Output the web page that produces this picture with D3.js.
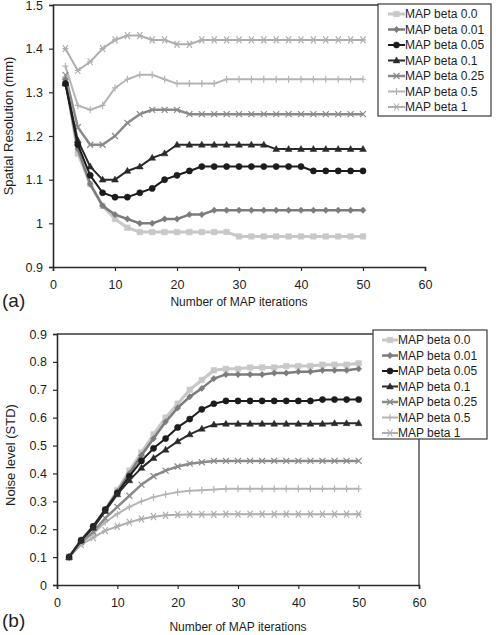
<!DOCTYPE html>
<html><head><meta charset="utf-8">
<script src="https://cdn.jsdelivr.net/npm/d3@7"></script>
<style>
body{margin:0;background:#fff}
svg{display:block}
text{font-family:"Liberation Sans",Arial,sans-serif;fill:#1e1e1e}
</style>
</head><body>
<svg id="chart" width="496" height="635"></svg>
<script>
// ---------- data ----------
const iterations = [2,4,6,8,10,12,14,16,18,20,22,24,26,28,30,32,34,36,38,40,42,44,46,48,50];
const seriesNames = ["MAP beta 0.0","MAP beta 0.01","MAP beta 0.05","MAP beta 0.1","MAP beta 0.25","MAP beta 0.5","MAP beta 1"];

// (a) spatial resolution (mm)
const resBeta0    = [1.33,1.16,1.09,1.04,1.01,0.99,0.98,0.98,0.98,0.98,0.98,0.98,0.98,0.98,0.97,0.97,0.97,0.97,0.97,0.97,0.97,0.97,0.97,0.97,0.97];
const resBeta001  = [1.33,1.17,1.09,1.04,1.02,1.01,1.00,1.00,1.01,1.01,1.02,1.02,1.03,1.03,1.03,1.03,1.03,1.03,1.03,1.03,1.03,1.03,1.03,1.03,1.03];
const resBeta005  = [1.32,1.18,1.11,1.07,1.06,1.06,1.07,1.08,1.10,1.11,1.12,1.13,1.13,1.13,1.13,1.13,1.13,1.13,1.13,1.13,1.12,1.12,1.12,1.12,1.12];
const resBeta01   = [1.32,1.19,1.13,1.10,1.10,1.12,1.13,1.15,1.16,1.18,1.18,1.18,1.18,1.18,1.18,1.18,1.18,1.17,1.17,1.17,1.17,1.17,1.17,1.17,1.17];
const resBeta025  = [1.34,1.22,1.18,1.18,1.20,1.23,1.25,1.26,1.26,1.26,1.25,1.25,1.25,1.25,1.25,1.25,1.25,1.25,1.25,1.25,1.25,1.25,1.25,1.25,1.25];
const resBeta05   = [1.36,1.27,1.26,1.27,1.31,1.33,1.34,1.34,1.33,1.32,1.32,1.32,1.32,1.33,1.33,1.33,1.33,1.33,1.33,1.33,1.33,1.33,1.33,1.33,1.33];
const resBeta1    = [1.40,1.35,1.37,1.40,1.42,1.43,1.43,1.42,1.42,1.41,1.41,1.42,1.42,1.42,1.42,1.42,1.42,1.42,1.42,1.42,1.42,1.42,1.42,1.42,1.42];

// (b) noise level (STD)
const noiseBeta0   = [0.10,0.16,0.21,0.27,0.34,0.41,0.475,0.54,0.60,0.65,0.70,0.735,0.77,0.775,0.775,0.78,0.78,0.78,0.785,0.785,0.785,0.79,0.79,0.79,0.795];
const noiseBeta001 = [0.10,0.16,0.21,0.27,0.335,0.40,0.465,0.525,0.585,0.635,0.675,0.705,0.74,0.755,0.755,0.755,0.755,0.76,0.76,0.765,0.765,0.77,0.77,0.77,0.775];
const noiseBeta005 = [0.10,0.16,0.21,0.27,0.33,0.39,0.445,0.49,0.525,0.565,0.595,0.63,0.65,0.66,0.66,0.66,0.66,0.66,0.66,0.66,0.66,0.665,0.665,0.665,0.665];
const noiseBeta01  = [0.10,0.16,0.205,0.265,0.325,0.375,0.42,0.455,0.485,0.515,0.54,0.56,0.575,0.578,0.578,0.578,0.578,0.578,0.578,0.578,0.578,0.578,0.58,0.58,0.58];
const noiseBeta025 = [0.10,0.155,0.19,0.24,0.28,0.32,0.36,0.39,0.41,0.425,0.435,0.44,0.445,0.445,0.445,0.445,0.445,0.445,0.445,0.445,0.445,0.445,0.445,0.445,0.445];
const noiseBeta05  = [0.10,0.15,0.185,0.225,0.255,0.28,0.30,0.315,0.325,0.333,0.338,0.34,0.342,0.345,0.345,0.345,0.345,0.345,0.345,0.345,0.345,0.345,0.345,0.345,0.345];
const noiseBeta1   = [0.10,0.145,0.17,0.195,0.21,0.225,0.237,0.245,0.25,0.252,0.253,0.253,0.253,0.254,0.254,0.254,0.254,0.254,0.254,0.254,0.254,0.254,0.254,0.254,0.254];

const xTickValues = [0,10,20,30,40,50,60];
const resTickValues = [0.9,1,1.1,1.2,1.3,1.4,1.5];
const noiseTickValues = [0,0.1,0.2,0.3,0.4,0.5,0.6,0.7,0.8,0.9];

// ---------- styles ----------
const styles = [
  {color:"#c8c8c8", width:3,   marker:"square"},
  {color:"#7c7c7c", width:2.5, marker:"diamond"},
  {color:"#1c1c1c", width:2,   marker:"circle"},
  {color:"#2a2a2a", width:2,   marker:"triangle"},
  {color:"#8a8a8a", width:2.5, marker:"x"},
  {color:"#b4b4b4", width:2,   marker:"plus"},
  {color:"#aeaeae", width:2,   marker:"star"}
];

function markerPath(type){
  switch(type){
    case "square":  return "M-2.8,-2.8H2.8V2.8H-2.8Z";
    case "diamond": return "M0,-3.2L3,0L0,3.2L-3,0Z";
    case "circle":  return d3.symbol(d3.symbolCircle, 30)();
    case "triangle":return "M0,-3.6L3.4,2.4H-3.4Z";
    case "x":       return "M-3,-3L3,3M-3,3L3,-3";
    case "plus":    return "M0,-3.5V3.5M-3,0H3";
    case "star":    return "M-2.5,-3.5L2.5,3.5M-2.5,3.5L2.5,-3.5M-3,0H3";
  }
}
const filledMarkers = new Set(["square","diamond","circle","triangle"]);

const svg = d3.select("#chart");

function drawPanel(cfg){
  const g = svg.append("g");
  const x = d3.scaleLinear().domain([0,60]).range([cfg.left, cfg.right]);
  const y = d3.scaleLinear().domain(cfg.yDomain).range([cfg.bottom, cfg.top]);

  // frame
  g.append("path")
    .attr("d", `M${cfg.left},${cfg.top}H${cfg.right}V${cfg.bottom}`)
    .attr("fill","none").attr("stroke","#3a3a3a").attr("stroke-width",1.3)
    .attr("visibility", cfg.frameRight ? "visible" : "hidden");
  if(!cfg.frameRight){
    g.append("line").attr("x1",cfg.left).attr("x2",cfg.right).attr("y1",cfg.top).attr("y2",cfg.top)
      .attr("stroke","#3a3a3a").attr("stroke-width",1.3);
  }

  const fmt = d => String(d);
  const yAxis = g.append("g").attr("transform",`translate(${cfg.left},0)`)
    .call(d3.axisLeft(y).tickValues(cfg.yTicks).tickFormat(fmt).tickSize(4).tickPadding(6));
  const xAxis = g.append("g").attr("transform",`translate(0,${cfg.bottom})`)
    .call(d3.axisBottom(x).tickValues(xTickValues).tickFormat(fmt).tickSize(4).tickPadding(9));
  [yAxis,xAxis].forEach(a=>{
    a.select(".domain").attr("stroke","#2a2a2a").attr("stroke-width",1.6);
    a.selectAll(".tick line").attr("stroke","#2a2a2a").attr("stroke-width",1.2);
    a.selectAll("text").attr("font-size",12.5).attr("fill","#1e1e1e")
      .attr("font-family","'Liberation Sans',Arial,sans-serif");
  });

  // series (draw in reverse so dark lines on top of light ones appropriately)
  const line = d3.line().x((d,i)=>x(iterations[i])).y(d=>y(d));
  const order = cfg.drawOrder;
  order.forEach(si=>{
    const st = styles[si], vals = cfg.series[si];
    const sg = g.append("g");
    sg.append("path").attr("d", line(vals)).attr("fill","none")
      .attr("stroke", st.color).attr("stroke-width", st.width).attr("stroke-linejoin","round");
    sg.selectAll("path.m").data(vals).join("path").attr("class","m")
      .attr("transform",(d,i)=>`translate(${x(iterations[i])},${y(d)})`)
      .attr("d", markerPath(st.marker))
      .attr("fill", filledMarkers.has(st.marker) ? st.color : "none")
      .attr("stroke", st.color)
      .attr("stroke-width", filledMarkers.has(st.marker) ? 0.5 : 1.2);
  });

  // axis titles
  g.append("text").attr("x",(cfg.left+cfg.right)/2).attr("y",cfg.xTitleY)
    .attr("text-anchor","middle").attr("font-size",12).text("Number of MAP iterations");
  g.append("text").attr("transform",`translate(${cfg.yTitleX},${cfg.yTitleCY}) rotate(-90)`)
    .attr("text-anchor","middle").attr("font-size",13).text(cfg.yTitle);
  g.append("text").attr("x",2).attr("y",cfg.panelLabelY).attr("font-size",19).text(cfg.panelLabel);

  // legend
  const L = cfg.legend;
  g.append("rect").attr("x",L.x).attr("y",L.y).attr("width",L.w).attr("height",L.h)
    .attr("fill","#fff").attr("stroke","#3a3a3a").attr("stroke-width",1.2);
  seriesNames.forEach((name,i)=>{
    const st = styles[i];
    const cy = L.firstY + i*L.step;
    const lg = g.append("g");
    lg.append("line").attr("x1",L.lineX0).attr("x2",L.lineX1).attr("y1",cy).attr("y2",cy)
      .attr("stroke",st.color).attr("stroke-width",st.width);
    lg.append("path").attr("transform",`translate(${(L.lineX0+L.lineX1)/2},${cy})`)
      .attr("d", markerPath(st.marker))
      .attr("fill", filledMarkers.has(st.marker) ? st.color : "none")
      .attr("stroke", st.color).attr("stroke-width", filledMarkers.has(st.marker) ? 0.5 : 1.2);
    lg.append("text").attr("x",L.lineX1).attr("y",cy+4.3).attr("font-size",12).text(name);
  });
}

drawPanel({
  left:53, right:425, top:5, bottom:267, yDomain:[0.9,1.5], yTicks:resTickValues,
  frameRight:false,
  series:[resBeta0,resBeta001,resBeta005,resBeta01,resBeta025,resBeta05,resBeta1],
  drawOrder:[6,5,4,0,1,3,2],
  xTitleY:306, yTitleX:13, yTitleCY:126, yTitle:"Spatial Resolution (mm)",
  panelLabel:"(a)", panelLabelY:307,
  legend:{x:378, y:4, w:113, h:112, firstY:14, step:15.5, lineX0:388, lineX1:405}
});

drawPanel({
  left:57, right:419, top:334, bottom:585, yDomain:[0,0.9], yTicks:noiseTickValues,
  frameRight:true,
  series:[noiseBeta0,noiseBeta001,noiseBeta005,noiseBeta01,noiseBeta025,noiseBeta05,noiseBeta1],
  drawOrder:[6,5,4,0,1,2,3],
  xTitleY:631, yTitleX:15, yTitleCY:455, yTitle:"Noise level (STD)",
  panelLabel:"(b)", panelLabelY:627,
  legend:{x:373, y:330, w:114, h:109, firstY:340, step:15.5, lineX0:382, lineX1:398}
});
</script>
</body></html>
